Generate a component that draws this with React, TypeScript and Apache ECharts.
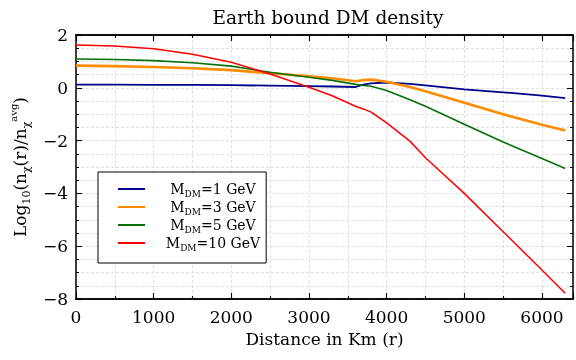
import React, { useEffect, useRef } from "react";
import * as echarts from "echarts";

const distanceKm = [0, 500, 1000, 1500, 2000, 2500, 3000, 3300, 3600, 3700, 3800, 4000, 4300, 4500, 5000, 5500, 6000, 6300];
const mass1GeV = [0.12, 0.12, 0.11, 0.11, 0.1, 0.08, 0.06, 0.05, 0.03, 0.12, 0.17, 0.2, 0.15, 0.09, -0.06, -0.17, -0.3, -0.39];
const mass3GeV = [0.84, 0.82, 0.79, 0.74, 0.67, 0.55, 0.44, 0.36, 0.25, 0.29, 0.31, 0.23, 0.03, -0.13, -0.57, -1.0, -1.4, -1.62];
const mass5GeV = [1.09, 1.07, 1.03, 0.95, 0.82, 0.59, 0.4, 0.28, 0.13, 0.09, 0.06, -0.1, -0.45, -0.7, -1.38, -2.05, -2.68, -3.06];
const mass10GeV = [1.62, 1.58, 1.48, 1.27, 0.97, 0.52, 0.02, -0.3, -0.7, -0.8, -0.92, -1.33, -2.02, -2.65, -4.0, -5.45, -6.9, -7.78];
const seriesNames = ["M_DM=1 GeV", "M_DM=3 GeV", "M_DM=5 GeV", "M_DM=10 GeV"];
const xTicks = [0, 1000, 2000, 3000, 4000, 5000, 6000];
const yTicks = [-8, -6, -4, -2, 0, 2];

const FONT = "DejaVu Serif";

export default function App() {
  const ref = useRef<HTMLDivElement>(null);
  useEffect(() => {
    const chart = echarts.init(ref.current!, null, { renderer: "svg" });
    const grid = { show: true, lineStyle: { color: "#d8d8d8", type: [3, 2], width: 0.8 } };
    const axisLine = { show: true, onZero: false, lineStyle: { color: "#000", width: 1.5 } };
    const fmtNum = (v: number) => (v < 0 ? "\u2212" + Math.abs(v) : String(v));
    const mkX = (position: string, minor: boolean, labels: boolean) => ({
      type: "value",
      position,
      min: 0,
      max: 6400,
      interval: minor ? 500 : 1000,
      axisLine,
      axisTick: { show: true, inside: true, length: minor ? 3 : 6, lineStyle: { color: "#000", width: 1.1 } },
      axisLabel: {
        show: labels,
        margin: 9,
        fontFamily: FONT,
        fontSize: 17,
        color: "#000",
        formatter: (v: number) => (xTicks.includes(v) ? fmtNum(v) : ""),
      },
      splitLine: labels ? grid : { show: false },
      name: labels ? "Distance in Km (r)" : "",
      nameLocation: "middle",
      nameGap: 31,
      nameTextStyle: { fontFamily: FONT, fontSize: 17, color: "#000" },
    });
    const mkY = (position: string, labels: boolean) => ({
      type: "value",
      position,
      min: -8,
      max: 2,
      interval: 2,
      axisLine,
      axisTick: { show: true, inside: true, length: 6, lineStyle: { color: "#000", width: 1.1 } },
      minorTick: { show: true, splitNumber: 4, length: 3, lineStyle: { color: "#000", width: 1 } },
      axisLabel: {
        show: labels,
        margin: 8,
        fontFamily: FONT,
        fontSize: 17,
        color: "#000",
        formatter: (v: number) => (yTicks.includes(v) ? fmtNum(v) : ""),
      },
      splitLine: labels ? grid : { show: false },
      minorSplitLine: labels ? grid : { show: false },
      name: labels ? "{m|Log}{s|10}{m|(n}{s|\u03c7}{m|(r)/n}{s|\u03c7}{p|avg}{m|)}" : "",
      nameLocation: "middle",
      nameRotate: 90,
      nameGap: 40,
      nameTextStyle: {
        fontFamily: FONT,
        fontSize: 17,
        color: "#000",
        rich: {
          m: { fontFamily: FONT, fontSize: 17, lineHeight: 24, color: "#000" },
          s: { fontFamily: FONT, fontSize: 11, lineHeight: 12, verticalAlign: "bottom", color: "#000" },
          p: { fontFamily: FONT, fontSize: 10, lineHeight: 14, verticalAlign: "top", color: "#000" },
        },
      },
    });
    const colors = ["#00008b", "#ff8c00", "#087008", "#ff0000"];
    const widths = [1.8, 2.6, 1.6, 1.5];
    const values = [mass1GeV, mass3GeV, mass5GeV, mass10GeV];
    chart.setOption({
      animation: false,
      title: {
        text: "Earth bound DM density",
        left: 323,
        textAlign: "center",
        top: 3,
        textStyle: { fontFamily: FONT, fontSize: 18.5, fontWeight: "normal", color: "#000" },
      },
      grid: { left: 72, right: 1, top: 35, bottom: 61, containLabel: false },
      xAxis: [mkX("bottom", true, true), mkX("bottom", false, false), mkX("top", true, false), mkX("top", false, false)],
      yAxis: [mkY("left", true), mkY("right", false)],
      legend: {
        left: 98,
        top: 172,
        orient: "vertical",
        backgroundColor: "#fff",
        borderColor: "#000",
        borderWidth: 1,
        borderRadius: 0,
        padding: [10, 6, 11, 20],
        icon: "rect",
        itemWidth: 27,
        itemHeight: 2,
        itemGap: 2,
        data: seriesNames,
        formatter: (name: string) => `{m|M}{s|DM}{m|${name.replace("M_DM", "")}}`,
        textStyle: {
          width: 126,
          fontFamily: FONT,
          fontSize: 14,
          color: "#000",
          rich: {
            m: { fontFamily: FONT, fontSize: 14, lineHeight: 18, align: "center", color: "#000" },
            s: { fontFamily: FONT, fontSize: 9, lineHeight: 10, verticalAlign: "bottom", align: "center", color: "#000" },
          },
        },
      },
      series: seriesNames.map((name, i) => ({
        name,
        type: "line",
        xAxisIndex: 0,
        yAxisIndex: 0,
        showSymbol: false,
        symbol: "none",
        smooth: false,
        data: distanceKm.map((d, j) => [d, values[i][j]]),
        lineStyle: { color: colors[i], width: widths[i] },
        itemStyle: { color: colors[i] },
        z: 3,
      })),
    });
    return () => chart.dispose();
  }, []);
  return <div ref={ref} style={{ position: "fixed", left: 0, top: 0, width: 576, height: 360 }} />;
}
